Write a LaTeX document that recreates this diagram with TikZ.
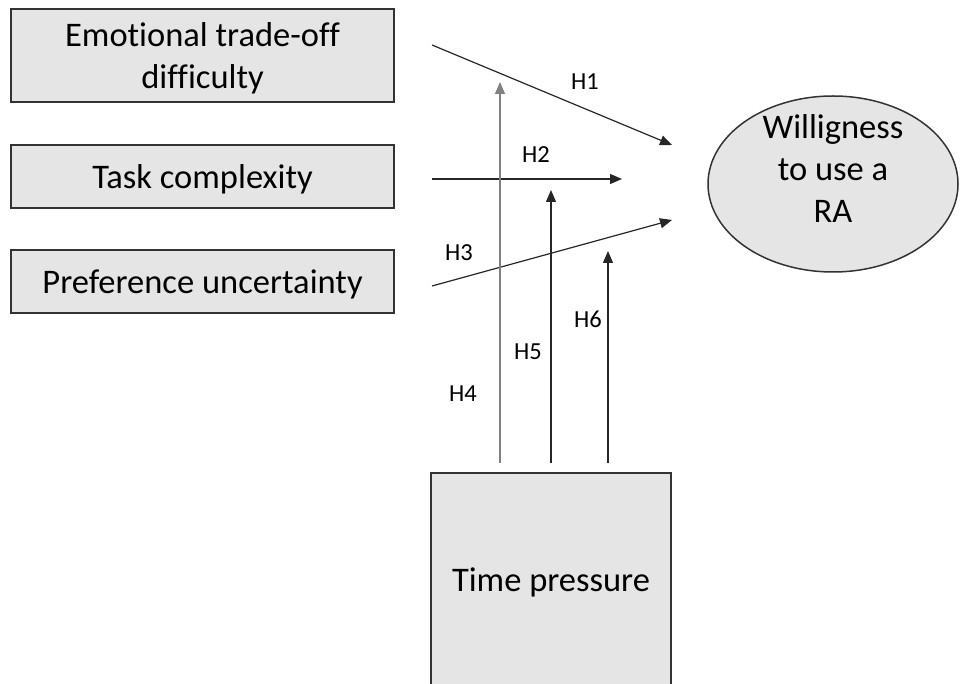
\documentclass[tikz,border=0pt]{standalone}
\usepackage{fontspec}
\setmainfont{Carlito}[Ligatures=NoCommon]
\usetikzlibrary{positioning,arrows.meta,shapes.geometric}

\begin{document}
\begin{tikzpicture}[x=1pt,y=-1pt,
    bigtext/.style={align=center,inner sep=0pt,font=\fontsize{34.5}{42}\selectfont},
    box/.style={bigtext,draw=black!80,line width=1.5pt,fill=gray!20,text depth=0pt},
    hyp/.style={-{Triangle[length=12pt,width=10pt]},line width=1.2pt,black!85},
    lbl/.style={font=\fontsize{24.5}{28}\selectfont}]
    \useasboundingbox (0,0) rectangle (960,684);
    \clip (0,0) rectangle (960,684);

    % Antecedents
    \node[box,minimum width=383,minimum height=93] (emo) at (202.5,55.5) {Emotional trade-off\\difficulty};
    \node[box,minimum width=383,minimum height=63] (task) at (202.5,176.5) {Task complexity};
    \node[box,minimum width=383,minimum height=63] (pref) at (202.5,281.5) {Preference uncertainty};

    % Outcome and moderator
    \node[draw=black!80,line width=1.5pt,fill=gray!20,ellipse,minimum width=250,minimum height=176] (will) at (833,184) {};
    \node[bigtext] (willtxt) at (833,169) {Willigness\\to use a\\RA};
    \node[box,minimum width=240,minimum height=214] (time) at (551,580) {Time pressure};

    % Arrow ends
    \coordinate (h1s) at (432,45);   \coordinate (h1e) at (672,145);
    \coordinate (h2s) at (432,179);  \coordinate (h2e) at (622,179);
    \coordinate (h3s) at (432,286);  \coordinate (h3e) at (672,220);
    \coordinate (h4s) at (500,463);  \coordinate (h4e) at (500,82);
    \coordinate (h5s) at (551,463);  \coordinate (h5e) at (551,190);
    \coordinate (h6s) at (608,463);  \coordinate (h6e) at (608,251);

    % Direct effects
    \draw[hyp] (h1s) -- (h1e);
    \draw[hyp] (h2s) -- (h2e);
    \draw[hyp] (h3s) -- (h3e);

    % Moderation
    \draw[hyp,gray] (h4s) -- (h4e);
    \draw[hyp] (h5s) -- (h5e);
    \draw[hyp] (h6s) -- (h6e);

    % Labels
    \node[lbl] (l1) at (585,82) {H1};
    \node[lbl] (l2) at (536,155) {H2};
    \node[lbl] (l3) at (459,253) {H3};
    \node[lbl] (l4) at (463,394) {H4};
    \node[lbl] (l5) at (528,352) {H5};
    \node[lbl] (l6) at (588,319) {H6};
\end{tikzpicture}
\end{document}
